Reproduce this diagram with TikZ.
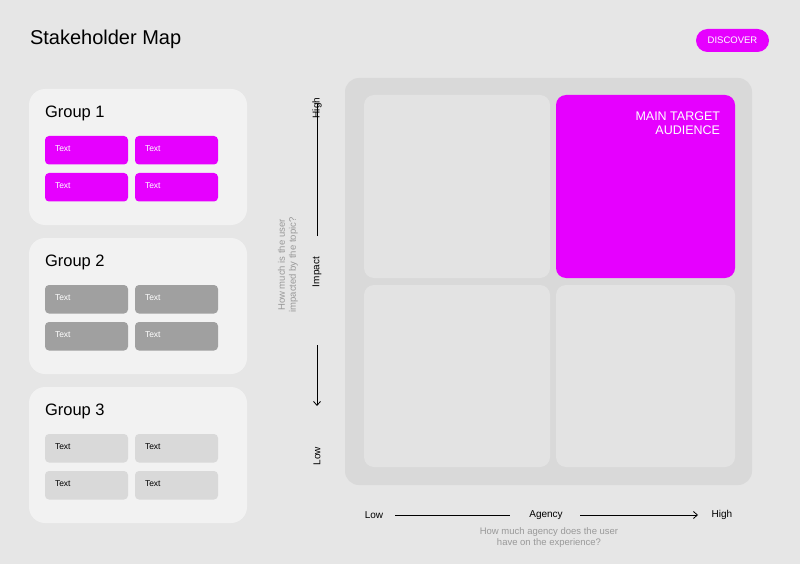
\documentclass[tikz,border=0pt]{standalone}
\usepackage{fontspec}
\setmainfont{Liberation Sans}
\usetikzlibrary{arrows.meta}
\definecolor{bg}{HTML}{E6E6E6}
\definecolor{card}{HTML}{F2F2F2}
\definecolor{magenta}{HTML}{E600FF}
\definecolor{midgray}{HTML}{A0A0A0}
\definecolor{lightgray}{HTML}{D9D9D9}
\definecolor{quad}{HTML}{E3E3E3}
\definecolor{note}{HTML}{999999}
\tikzset{
% Define standard arrow tip
>={Straight Barb[length=4pt,width=7pt]}
}

\begin{document}
\begin{tikzpicture}[x=1pt, y=-1pt, inner sep=0, outer sep=0,
    group/.style={fill=card, rounded corners=16pt},
    tag/.style={rounded corners=4pt, minimum width=83pt, minimum height=28.5pt},
    tagtext/.style={anchor=west, font=\fontsize{8.5}{10}\selectfont},
    quadrant/.style={fill=quad, rounded corners=10pt},
    axis/.style={font=\fontsize{10}{12}\selectfont},
    hint/.style={text=note, align=center, font=\fontsize{9.5}{11}\selectfont}]
  \fill[bg] (0,0) rectangle (800,564);
  \useasboundingbox (0,0) rectangle (800,564);

  \node[anchor=west, font=\fontsize{20}{24}\selectfont] (title) at (30,39) {Stakeholder Map};
  \node[fill=magenta, rounded corners=11.5pt, minimum width=73pt, minimum height=23pt,
    text=white, font=\fontsize{9.5}{11}\selectfont] (discover) at (732.5,40.5) {DISCOVER};

  % groups
  \foreach \n/\top/\tfill/\ttext in {1/89/magenta/white, 2/238/midgray/white, 3/387/lightgray/black} {
    \fill[group] (29,\top) rectangle (247,\top+136);
    \node[anchor=west, font=\fontsize{16.5}{20}\selectfont] (g\n) at (45,\top+24) {Group \n};
    \foreach \c/\x in {1/45, 2/135} {
      \foreach \r/\y in {1/47, 2/84} {
        \node[tag, fill=\tfill, anchor=north west] (t\n\c\r) at (\x,\top+\y) {};
        \node[tagtext, text=\ttext] at ([xshift=10pt, yshift=-13pt]t\n\c\r.north west) {Text};
      }
    }
  }

  % matrix
  \fill[lightgray, rounded corners=14pt] (345,78) rectangle (752,485);
  \fill[quadrant] (364,95) rectangle (550,278);
  \fill[magenta, rounded corners=10pt] (556,95) rectangle (735,278);
  \fill[quadrant] (364,285) rectangle (550,467);
  \fill[quadrant] (556,285) rectangle (735,467);
  \node[anchor=north east, align=right, text=white, font=\fontsize{12.5}{14}\selectfont] (main) at (720,112) {MAIN TARGET\\AUDIENCE};

  % vertical axis
  \node[axis, rotate=90] (yhigh) at (317,108) {High};
  \node[axis, rotate=90] (yimpact) at (317,272) {Impact};
  \node[axis, rotate=90] (ylow) at (317,456) {Low};
  \draw[->, thick] ([yshift=-73pt]yimpact.center) -- ([yshift=-134pt]yimpact.center);
  \draw[thick] ([yshift=36pt]yimpact.center) -- ([yshift=168pt]yimpact.center);
  \node[hint, rotate=90] (yhint) at (288,265) {How much is the user\\impacted by the topic?};

  % horizontal axis
  \node[axis] (xlow) at (374,515) {Low};
  \node[axis] (xagency) at (546,515) {Agency};
  \node[axis] (xhigh) at (722,515) {High};
  \draw[thick] ([xshift=-151pt]xagency.center) -- ([xshift=-36pt]xagency.center);
  \draw[->, thick] ([xshift=34pt]xagency.center) -- ([xshift=152pt]xagency.center);
  \node[hint] (xhint) at (549,538) {How much agency does the user\\have on the experience?};
\end{tikzpicture}
\end{document}
